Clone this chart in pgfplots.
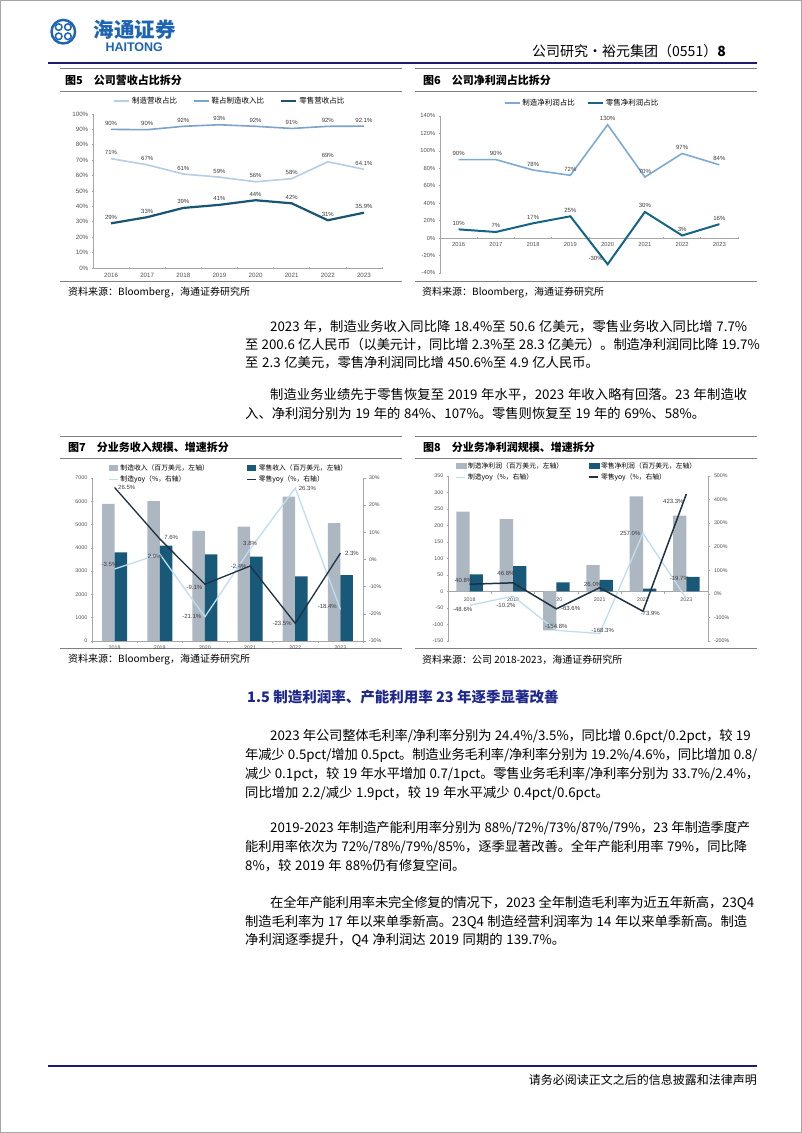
\documentclass[border=0pt]{standalone}
\usepackage{fontspec}
\setmainfont{Noto Sans CJK SC}
\newfontfamily\arial{Liberation Sans}
\usepackage{pgfplots}
\pgfplotsset{compat=1.18}

\XeTeXinterchartokenstate=1
\newXeTeXintercharclass\cjkcls
\newcount\cjkcnt
\cjkcnt="3000 \loop\XeTeXcharclass\cjkcnt=\cjkcls \ifnum\cjkcnt<"303F \advance\cjkcnt by 1 \repeat
\cjkcnt="4E00 \loop\XeTeXcharclass\cjkcnt=\cjkcls \ifnum\cjkcnt<"9FFF \advance\cjkcnt by 1 \repeat
\cjkcnt="FF00 \loop\XeTeXcharclass\cjkcnt=\cjkcls \ifnum\cjkcnt<"FFEF \advance\cjkcnt by 1 \repeat
\XeTeXinterchartoks\cjkcls\cjkcls={\hskip 0pt plus 1pt minus 0.2pt\relax}
\XeTeXinterchartoks\cjkcls 0={\hskip 0pt plus 1pt minus 0.2pt\relax}
\XeTeXinterchartoks 0\cjkcls={\hskip 0pt plus 1pt minus 0.2pt\relax}

\definecolor{axisgray}{RGB}{166,166,166}
\definecolor{ticktext}{RGB}{80,80,80}
\definecolor{lbltext}{RGB}{60,60,60}
\definecolor{cfivelight}{RGB}{184,204,228}
\definecolor{cfivemid}{RGB}{124,163,204}
\definecolor{cfivedark}{RGB}{23,85,115}
\definecolor{csixlight}{RGB}{124,170,210}
\definecolor{csixdark}{RGB}{20,100,135}
\definecolor{barGray}{RGB}{173,183,194}
\definecolor{barDark}{RGB}{24,88,120}
\definecolor{yoyLight}{RGB}{190,222,240}
\definecolor{yoyDark}{RGB}{30,50,68}
\definecolor{navy}{RGB}{28,28,110}
\definecolor{headblue}{RGB}{30,40,140}
\definecolor{logoblue}{RGB}{30,100,180}
\definecolor{panelgray}{RGB}{128,128,128}

\newcommand{\tf}{\arial\fontsize{6.2}{7}\selectfont}
\newcommand{\tfs}{\arial\fontsize{5.3}{6}\selectfont}
\newcommand{\lf}{\arial\fontsize{6}{7}\selectfont}
\newcommand{\legf}{\fontsize{7.5}{9}\selectfont}
\newcommand{\legfs}{\fontsize{6.8}{8}\selectfont}
\newcommand{\bodyf}{\fontsize{13.3}{15}\selectfont\spaceskip=.28em plus 1pt minus 0.5pt\relax}
\newcommand{\titf}{\fontsize{11}{13}\selectfont\bfseries}
\newcommand{\srcf}{\fontsize{10}{12}\selectfont}

\newcommand{\jl}[4]{\node[anchor=west,inner sep=0pt,font=\bodyf] at (#1,1133-#2) {\hbox to #3pt{#4}};}
\newcommand{\nl}[3]{\node[anchor=west,inner sep=0pt,font=\bodyf] at (#1,1133-#2) {#3};}

\pgfplotsset{
  base/.style={scale only axis, anchor=south west, clip=false,
    axis line style={draw=axisgray, line width=0.6pt, -},
    every non boxed x axis/.append style={x axis line style=-},
    every non boxed y axis/.append style={y axis line style=-},
    tick style={draw=axisgray, line width=0.6pt}, tick align=outside, major tick length=2.5pt,
    ticklabel style={font=\tf, text=ticktext},
    /pgf/number format/assume math mode=true, /pgf/number format/1000 sep={},
    hide obscured x ticks=false, hide obscured y ticks=false,
    legend cell align=left},
  lbls/.style={nodes near coords, point meta=explicit symbolic,
    visualization depends on={value \thisrow{a}\as\anch},
    visualization depends on={value \thisrow{dx}\as\dx},
    visualization depends on={value \thisrow{dy}\as\dy},
    nodes near coords style={font=\lf, text=lbltext, anchor=\anch, xshift=\dx pt, yshift=\dy pt, inner sep=1pt}},
}

\begin{document}
\begin{tikzpicture}[x=1pt,y=1pt]
\path[use as bounding box] (0,0) rectangle (802,1133);
\fill[white] (0,0) rectangle (802,1133);
\draw[gray!70, line width=1pt] (0.5,0.5) rectangle (801.5,1132.5);

% header
\draw[logoblue, line width=2.4pt] (63.3,1133-31.7) circle (11.8);
\foreach \dx/\dy in {4.6/4.6,-4.6/4.6,4.6/-4.6,-4.6/-4.6}{
  \draw[logoblue, line width=1.5pt] (63.3+\dx,1133-31.7+\dy) circle (3.3);}
\node[anchor=west, text=logoblue, font=\fontsize{20.5}{22}\selectfont\bfseries] at (90,1133-30) {海通证券};
\node[anchor=west, text=logoblue, font=\arial\bfseries\fontsize{12.5}{13}\selectfont] at (102,1133-47.5) {HAITONG};
\node[anchor=east, inner sep=0pt, font=\fontsize{14}{15}\selectfont] at (726,1133-51) {公司研究·裕元集团（0551）\textbf{8}};
\draw[navy, line width=2.2pt] (48,1133-63) -- (757,1133-63);

% panel frames
\foreach \xa/\xb in {60/402,415/757}{
  \draw[panelgray, line width=0.7pt] (\xa,1133-68) -- (\xb,1133-68);
  \draw[panelgray, line width=0.7pt] (\xa,1133-91) -- (\xb,1133-91);
  \draw[panelgray, line width=0.7pt] (\xa,1133-281.5) -- (\xb,1133-281.5);
  \draw[panelgray, line width=0.7pt] (\xa,1133-436) -- (\xb,1133-436);
  \draw[panelgray, line width=0.7pt] (\xa,1133-458) -- (\xb,1133-458);
  \draw[panelgray, line width=0.7pt] (\xa,1133-648.5) -- (\xb,1133-648.5);
}
\node[anchor=west, inner sep=0pt, font=\titf] at (65,1133-80.5) {图5\quad 公司营收占比拆分};
\node[anchor=west, inner sep=0pt, font=\titf] at (423,1133-80.5) {图6\quad 公司净利润占比拆分};
\node[anchor=west, inner sep=0pt, font=\titf] at (68,1133-447) {图7\quad 分业务收入规模、增速拆分};
\node[anchor=west, inner sep=0pt, font=\titf] at (423,1133-447) {图8\quad 分业务净利润规模、增速拆分};
\node[anchor=west, inner sep=0pt, font=\srcf] at (68,1133-292.5) {资料来源：Bloomberg，海通证券研究所};
\node[anchor=west, inner sep=0pt, font=\srcf] at (422,1133-292.5) {资料来源：Bloomberg，海通证券研究所};
\node[anchor=west, inner sep=0pt, font=\srcf] at (68,1133-660) {资料来源：Bloomberg，海通证券研究所};
\node[anchor=west, inner sep=0pt, font=\srcf] at (422,1133-660) {资料来源：公司 2018-2023，海通证券研究所};

% body text
\jl{270}{327}{477}{2023 年，制造业务收入同比降 18.4\%至 50.6 亿美元，零售业务收入同比增 7.7\%}
\jl{245}{345}{502}{至 200.6 亿人民币（以美元计，同比增 2.3\%至 28.3 亿美元）。制造净利润同比降 19.7\%}
\nl{245}{363}{至 2.3 亿美元，零售净利润同比增 450.6\%至 4.9 亿人民币。}
\jl{270}{395}{477}{制造业务业绩先于零售恢复至 2019 年水平，2023 年收入略有回落。23 年制造收}
\nl{245}{413}{入、净利润分别为 19 年的 84\%、107\%。零售则恢复至 19 年的 69\%、58\%。}

\node[anchor=west, inner sep=0pt, text=headblue, font=\fontsize{14.5}{16}\selectfont\bfseries] at (247,1133-697) {1.5 制造利润率、产能利用率 23 年逐季显著改善};

\jl{270}{736}{477}{2023 年公司整体毛利率/净利率分别为 24.4\%/3.5\%，同比增 0.6pct/0.2pct，较 19}
\jl{245}{755}{502}{年减少 0.5pct/增加 0.5pct。制造业务毛利率/净利率分别为 19.2\%/4.6\%，同比增加 0.8/}
\jl{245}{774}{502}{减少 0.1pct，较 19 年水平增加 0.7/1pct。零售业务毛利率/净利率分别为 33.7\%/2.4\%，}
\nl{245}{793}{同比增加 2.2/减少 1.9pct，较 19 年水平减少 0.4pct/0.6pct。}
\jl{270}{828}{477}{2019-2023 年制造产能利用率分别为 88\%/72\%/73\%/87\%/79\%，23 年制造季度产}
\jl{245}{847}{502}{能利用率依次为 72\%/78\%/79\%/85\%，逐季显著改善。全年产能利用率 79\%，同比降}
\nl{245}{866}{8\%，较 2019 年 88\%仍有修复空间。}
\jl{270}{903}{477}{在全年产能利用率未完全修复的情况下，2023 全年制造毛利率为近五年新高，23Q4}
\jl{245}{922}{502}{制造毛利率为 17 年以来单季新高。23Q4 制造经营利润率为 14 年以来单季新高。制造}
\nl{245}{940}{净利润逐季提升，Q4 净利润达 2019 同期的 139.7\%。}

% footer
\draw[navy, line width=1.8pt] (48,1133-1066) -- (757,1133-1066);
\node[anchor=east, inner sep=0pt, font=\fontsize{12}{13}\selectfont] at (757,1133-1080) {请务必阅读正文之后的信息披露和法律声明};

% ===== Chart 5 =====
\begin{axis}[base, at={(93pt,865pt)}, width=289pt, height=154pt,
  xmin=-0.5, xmax=7.5, ymin=0, ymax=100,
  axis x line=bottom, axis y line=left,
  xtick={-0.5,0.5,1.5,2.5,3.5,4.5,5.5,6.5,7.5}, x tick label as interval,
  xticklabels={2016,2017,2018,2019,2020,2021,2022,2023},
  ytick={0,10,...,100}, yticklabel={\pgfmathprintnumber{\tick}\%},
  legend style={at={(0.474,1.084)}, anchor=center, draw=none, fill=none, font=\legf,
    legend columns=3, inner sep=0pt, /tikz/every even column/.append style={column sep=14pt}},
  legend image code/.code={\draw[#1] (0pt,0pt) -- (15pt,0pt);},
]
\addplot[cfivelight, line width=1.6pt, lbls] table[x=x,y=y,meta=l,row sep=\\]{
x y l a dx dy\\
0 71 71\% south 0 2\\ 1 67 67\% south 0 2\\ 2 61 61\% south 0 2\\ 3 59 59\% south 0 2\\
4 56 56\% south 0 2\\ 5 58 58\% south 0 2\\ 6 69 69\% south 0 2\\ 7 64.1 64.1\% south 0 2\\
};
\addlegendentry{制造营收占比}
\addplot[cfivemid, line width=1.6pt, lbls] table[x=x,y=y,meta=l,row sep=\\]{
x y l a dx dy\\
0 90 90\% south 0 2\\ 1 89.8 90\% south 0 2\\ 2 92 92\% south 0 2\\ 3 93 93\% south 0 2\\
4 92 92\% south 0 2\\ 5 90.6 91\% south 0 2\\ 6 92 92\% south 0 2\\ 7 92.1 92.1\% south 0 2\\
};
\addlegendentry{鞋占制造收入比}
\addplot[cfivedark, line width=2.2pt, lbls] table[x=x,y=y,meta=l,row sep=\\]{
x y l a dx dy\\
0 29 29\% south 0 2\\ 1 33 33\% south 0 2\\ 2 39 39\% south 0 2\\ 3 41 41\% south 0 2\\
4 44 44\% south 0 2\\ 5 42 42\% south 0 2\\ 6 31 31\% south 0 2\\ 7 35.9 35.9\% south 0 2\\
};
\addlegendentry{零售营收占比}
\end{axis}

% ===== Chart 6 =====
\begin{axis}[base, at={(440pt,860pt)}, width=298pt, height=157pt,
  xmin=-0.5, xmax=7.5, ymin=-40, ymax=140,
  axis x line=middle, axis y line=left,
  xtick={-0.5,0.5,1.5,2.5,3.5,4.5,5.5,6.5,7.5}, x tick label as interval,
  xticklabels={2016,2017,2018,2019,2020,2021,2022,2023},
  ytick={-40,-20,...,140}, yticklabel={\pgfmathprintnumber{\tick}\%},
  ticklabel style={font=\arial\fontsize{5.8}{7}\selectfont},
  legend style={at={(0.477,1.083)}, anchor=center, draw=none, fill=none, font=\legf,
    legend columns=2, inner sep=0pt, /tikz/every even column/.append style={column sep=10pt}},
  legend image code/.code={\draw[#1] (0pt,0pt) -- (15pt,0pt);},
]
\addplot[csixlight, line width=1.6pt, lbls] table[x=x,y=y,meta=l,row sep=\\]{
x y l a dx dy\\
0 90 90\% south 0 2\\ 1 90 90\% south 0 2\\ 2 78 78\% south 0 2\\ 3 72 72\% south 0 2\\
4 130 130\% south 0 2\\ 5 70 70\% south 0 2\\ 6 97 97\% south 0 2\\ 7 84 84\% south 0 2\\
};
\addlegendentry{制造净利润占比}
\addplot[csixdark, line width=2pt, lbls] table[x=x,y=y,meta=l,row sep=\\]{
x y l a dx dy\\
0 10 10\% south 0 2\\ 1 7 7\% south 0 2\\ 2 17 17\% south 0 2\\ 3 25 25\% south 0 2\\
4 -30 -30\% {south east} -3 2\\ 5 30 30\% south 0 2\\ 6 3 3\% south 0 2\\ 7 16 16\% south 0 2\\
};
\addlegendentry{零售净利润占比}
\end{axis}

% ===== Chart 7 =====
\begin{axis}[base, at={(92pt,492pt)}, width=271pt, height=163pt,
  xmin=-0.5, xmax=5.5, ymin=0, ymax=7000,
  axis x line=bottom, axis y line=left, ybar=0pt, bar width=12.5pt,
  xtick={-0.5,0.5,1.5,2.5,3.5,4.5,5.5}, x tick label as interval,
  xticklabels={2018,2019,2020,2021,2022,2023},
  ytick={0,1000,...,7000}, ticklabel style={font=\tfs},
  xticklabel style={yshift=1.5pt},
]
\addplot[fill=barGray, draw=none] coordinates {(0,5890) (1,6010) (2,4730) (3,4910) (4,6200) (5,5060)};
\addplot[fill=barDark, draw=none] coordinates {(0,3810) (1,4100) (2,3720) (3,3620) (4,2770) (5,2830)};
\end{axis}
\begin{axis}[base, at={(92pt,492pt)}, width=271pt, height=163pt,
  xmin=-0.5, xmax=5.5, ymin=-30, ymax=30,
  axis y line*=right, axis x line=none,
  ytick={-30,-20,...,30}, yticklabel={\pgfmathprintnumber{\tick}\%}, ticklabel style={font=\tfs},
  legend style={at={(0.059,1.098)}, anchor=north west, draw=none, fill=none, font=\legfs,
    legend columns=2, inner sep=0pt, row sep=0pt, /tikz/every even column/.append style={column sep=0pt}},
  legend image code/.code={\draw[#1] (0pt,0pt) -- (9pt,0pt);},
]
\addlegendimage{legend image code/.code={\fill[barGray] (0pt,-2.3pt) rectangle (8pt,2.3pt);}}
\addlegendentry{\makebox[124pt][l]{制造收入（百万美元，左轴）}}
\addlegendimage{legend image code/.code={\fill[barDark] (0pt,-2.3pt) rectangle (8pt,2.3pt);}}
\addlegendentry{零售收入（百万美元，左轴）}
\addplot[yoyLight, line width=1.3pt, lbls] table[x=x,y=y,meta=l,row sep=\\]{
x y l a dx dy\\
0 -3.5 -3.5\% south -5 1\\ 1 2.0 2.0\% north -5 1\\ 2 -21.1 -21.1\% east -2 0\\
3 3.8 3.8\% south 0 2\\ 4 26.3 26.3\% west 2 0\\ 5 -18.4 -18.4\% east -2 3\\
};
\addlegendentry{\makebox[124pt][l]{制造yoy（\%，右轴）}}
\addplot[yoyDark, line width=1.3pt, lbls] table[x=x,y=y,meta=l,row sep=\\]{
x y l a dx dy\\
0 26.5 26.5\% west 2 0\\ 1 7.6 7.6\% west 3 1\\ 2 -9.1 -9.1\% east -1 -3\\
3 -2.4 -2.4\% east -2 0\\ 4 -23.5 -23.5\% east -2 0\\ 5 2.3 2.3\% west 3 0\\
};
\addlegendentry{零售yoy（\%，右轴）}
\end{axis}

% ===== Chart 8 =====
\begin{axis}[base, at={(448pt,492pt)}, width=260pt, height=165pt,
  xmin=-0.5, xmax=5.5, ymin=-150, ymax=350,
  axis x line=middle, axis y line=left, ybar=0pt, bar width=13.3pt,
  xtick={-0.5,0.5,1.5,2.5,3.5,4.5,5.5}, x tick label as interval,
  xticklabels={2018,2019,2020,2021,2022,2023},
  ytick={-150,-100,...,350}, ticklabel style={font=\tfs},
]
\addplot[fill=barGray, draw=none] coordinates {(0,242) (1,219) (2,-118) (3,80) (4,288) (5,230)};
\addplot[fill=barDark, draw=none] coordinates {(0,52) (1,77) (2,28) (3,35) (4,8.5) (5,44)};
\end{axis}
\begin{axis}[base, at={(448pt,492pt)}, width=260pt, height=165pt,
  xmin=-0.5, xmax=5.5, ymin=-200, ymax=500,
  axis y line*=right, axis x line=none,
  ytick={-200,-100,...,500}, yticklabel={\pgfmathprintnumber{\tick}\%}, ticklabel style={font=\tfs},
  legend style={at={(0.027,1.097)}, anchor=north west, draw=none, fill=none, font=\legfs,
    legend columns=2, inner sep=0pt, row sep=0pt, /tikz/every even column/.append style={column sep=0pt}},
  legend image code/.code={\draw[#1] (0pt,0pt) -- (9pt,0pt);},
]
\addlegendimage{legend image code/.code={\fill[barGray] (0pt,-2.3pt) rectangle (10pt,2.3pt);}}
\addlegendentry{\makebox[118pt][l]{制造净利润（百万美元，左轴）}}
\addlegendimage{legend image code/.code={\fill[barDark] (0pt,-2.3pt) rectangle (10pt,2.3pt);}}
\addlegendentry{零售净利润（百万美元，左轴）}
\addplot[yoyLight, line width=1.3pt, lbls] table[x=x,y=y,meta=l,row sep=\\]{
x y l a dx dy\\
0 -48.6 -48.6\% north -7 0\\ 1 -10.2 -10.2\% north -7 -5\\ 2 -154.8 -154.8\% south 0 0\\
3 -168.3 -168.3\% south 3 -1\\ 4 257.0 257.0\% east -1 0\\ 5 -19.7 -19.7\% south -7 16\\
};
\addlegendentry{\makebox[118pt][l]{制造yoy（\%，右轴）}}
\addplot[yoyDark, line width=1.5pt, lbls] table[x=x,y=y,meta=l,row sep=\\]{
x y l a dx dy\\
0 40.8 40.8\% south -6 0\\ 1 46.8 46.8\% south -7 6\\ 2 -63.6 -63.6\% west 3 0\\
3 26.0 26.0\% south -7 -1\\ 4 -73.9 -73.9\% west -4 -2\\ 5 423.3 423.3\% east -1 -7\\
};
\addlegendentry{零售yoy（\%，右轴）}
\end{axis}
\end{tikzpicture}
\end{document}
